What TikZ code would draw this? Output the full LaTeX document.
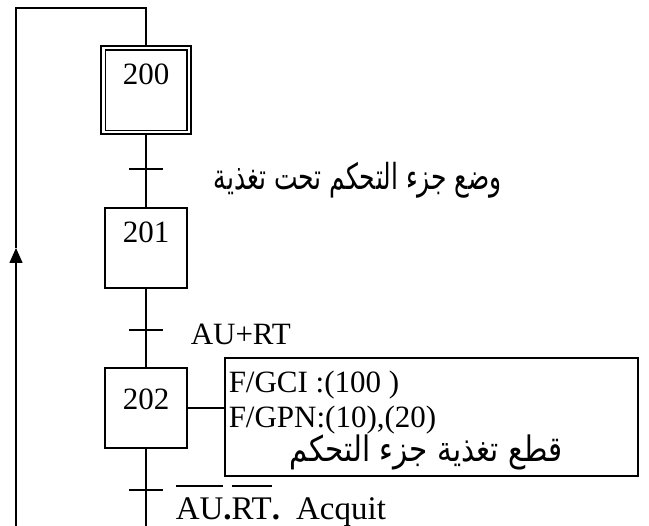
\documentclass[tikz,border=0pt]{standalone}
\usepackage{fontspec}
\setmainfont{Liberation Serif}
\newfontfamily\arabicfont[Script=Arabic]{DejaVu Sans}
\TeXXeTstate=1
\usetikzlibrary{arrows.meta,calc}
\newcommand\myov[1]{\setbox0\hbox{#1}\rlap{\raisebox{33pt}{\rule{\wd0}{1.6pt}}}\box0}
\begin{document}
\begin{tikzpicture}[x=1pt,y=-1pt,line width=1.5pt,
  stepbox/.style={draw,rectangle,minimum width=82pt,minimum height=80pt,inner sep=0pt},
  initbox/.style={draw,rectangle,minimum width=90pt,minimum height=88pt,inner sep=0pt},
  actbox/.style={draw,rectangle,minimum width=413pt,minimum height=118pt,inner sep=0pt},
  lat/.style={inner sep=0pt,font=\fontsize{31}{36}\selectfont},
  arab/.style={inner sep=0pt,font=\arabicfont\fontsize{26}{32}\selectfont},
  tipstyle/.style={-{Triangle[length=15pt,width=13pt]}}]
\useasboundingbox (0,0) rectangle (649,526);
% steps
\node[initbox] (s200) at (146,90) {};
\draw ($(s200.north west)+(5,5)$) rectangle ($(s200.south east)+(-5,-4)$);
\node[lat] (t200) at (146,74) {200};
\node[stepbox] (s201) at (146,248) {};
\node[lat] (t201) at (146,232) {201};
\node[stepbox] (s202) at (146,408) {};
\node[lat] (t202) at (146,399) {202};
% action
\node[actbox] (act) at (431.5,417) {};
\draw (s202.east) -- (s202.east -| act.west);
\node[lat,anchor=base west] (a1) at (228,393) {F/GCI :(100 )};
\node[lat,anchor=base west] (a2) at (228,428) {F/GPN:(10),(20)};
\node[arab,anchor=base] (a3) at (426,462) {\scalebox{1.13}[1.35]{\beginR قطع تغذية جزء التحكم\endR}};
% transitions
\coordinate (tr1) at (146,169);
\coordinate (tr2) at (146,330);
\coordinate (tr3) at (146,490);
\draw (s200.south) -- (s201.north);
\draw (s201.south) -- (s202.north);
\coordinate (bot) at (146,526);
\draw (s202.south) -- (bot);
\foreach \t in {tr1,tr2,tr3}{\draw ([xshift=-17pt]\t) -- ([xshift=17pt]\t);}
\node[arab,anchor=base west] (c1) at (213,190) {\scalebox{0.96}[1.38]{\beginR وضع جزء التحكم تحت تغذية\endR}};
\node[lat,anchor=base west] (c2) at (190,345) {AU+RT};
\node[lat,anchor=base west,font=\fontsize{33}{36}\selectfont] (c3) at (175,520) {\myov{AU}{\bfseries .}\myov{RT}{\bfseries .}\hspace{16pt}Acquit};
% loop back
\coordinate (lb) at (16,526);
\coordinate (arr) at (16,248);
\coordinate (lt) at (16,8);
\coordinate (top) at (146,8);
\draw[tipstyle] (lb) -- (arr);
\draw (arr) -- (lt) -- (top) -- (s200.north);
\end{tikzpicture}
\end{document}
